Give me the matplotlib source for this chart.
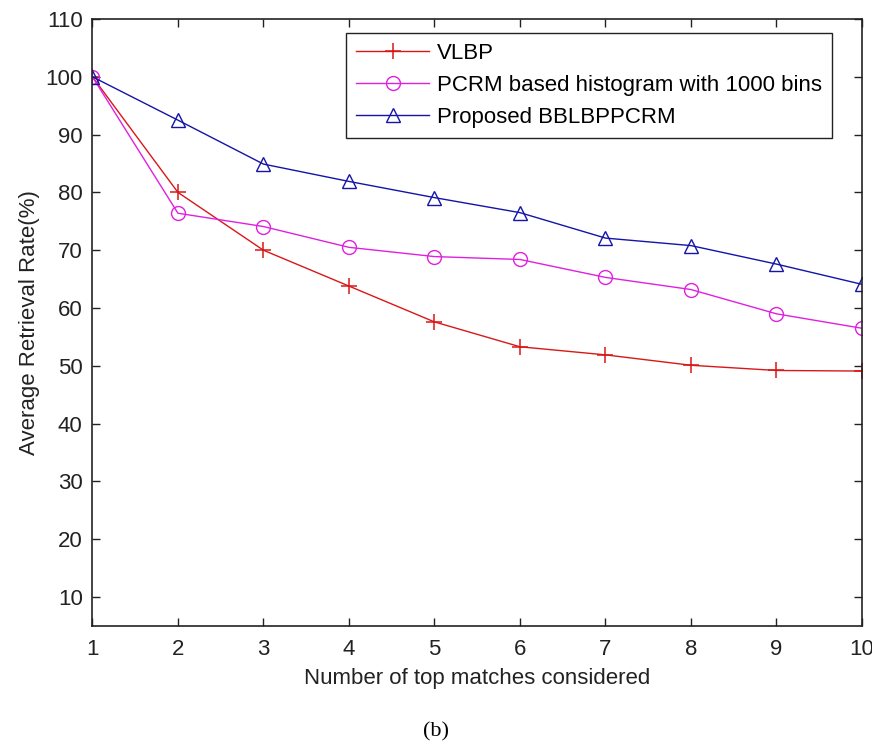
import numpy as np
import matplotlib
matplotlib.use("Agg")
import matplotlib.pyplot as plt

# ==========================
# Data
# ==========================

top_matches = [1, 2, 3, 4, 5, 6, 7, 8, 9, 10]

vlbp = [100, 80, 70, 63.8, 57.6, 53.3, 51.9, 50.1, 49.2, 49.1]
pcrm = [100, 76.4, 74.1, 70.5, 68.9, 68.4, 65.3, 63.2, 59.0, 56.5]
proposed = [100, 92.5, 84.9, 81.9, 79.1, 76.5, 72.1, 70.8, 67.6, 64.1]

labels = [
    "VLBP",
    "PCRM based histogram with 1000 bins",
    "Proposed BBLBPPCRM"
]

y_ticks = [10, 20, 30, 40, 50, 60, 70, 80, 90, 100, 110]

# ==========================
# Plot
# ==========================

plt.rcParams["font.family"] = ["Liberation Sans", "DejaVu Sans"]

fig = plt.figure(figsize=(8.72, 7.44), dpi=100)
ax = fig.add_axes([0.106, 0.1586, 0.8825, 0.8159])

ax.plot(top_matches, vlbp, color="#d81818", marker="+",
        markersize=11, markeredgewidth=1.1, linewidth=1.0, label=labels[0])
ax.plot(top_matches, pcrm, color="#e020e0", marker="o", markerfacecolor="none",
        markersize=10, markeredgewidth=1.0, linewidth=1.0, label=labels[1])
ax.plot(top_matches, proposed, color="#1414a8", marker="^", markerfacecolor="none",
        markersize=10, markeredgewidth=1.0, linewidth=1.0, label=labels[2])

ax.set_xlim(1, 10)
ax.set_ylim(5, 110)
ax.set_xticks(top_matches)
ax.set_yticks(y_ticks)

ax.tick_params(direction="in", length=6, width=1.0, top=True, right=True,
               labelsize=16, colors="#222222")
ax.tick_params(axis="x", pad=9)
ax.tick_params(axis="y", pad=7)
for s in ax.spines.values():
    s.set_linewidth(1.2)
    s.set_color("#222222")

ax.set_xlabel("Number of top matches considered", fontsize=16, color="#222222",
              labelpad=6)
ax.set_ylabel("Average Retrieval Rate(%)", fontsize=16, color="#222222",
              labelpad=4)

leg = ax.legend(loc="upper right", bbox_to_anchor=(0.961, 0.977), fontsize=16,
                frameon=True, fancybox=False, framealpha=1, edgecolor="#222222",
                borderpad=0.45, labelspacing=0.5, handlelength=3.3,
                handletextpad=0.35, borderaxespad=0.0)
leg.get_frame().set_linewidth(1.0)

fig.text(0.5, 0.016, "(b)", ha="center", va="center", fontsize=16,
         family=["Liberation Serif", "DejaVu Serif"])

plt.savefig("out.png", dpi=100)
